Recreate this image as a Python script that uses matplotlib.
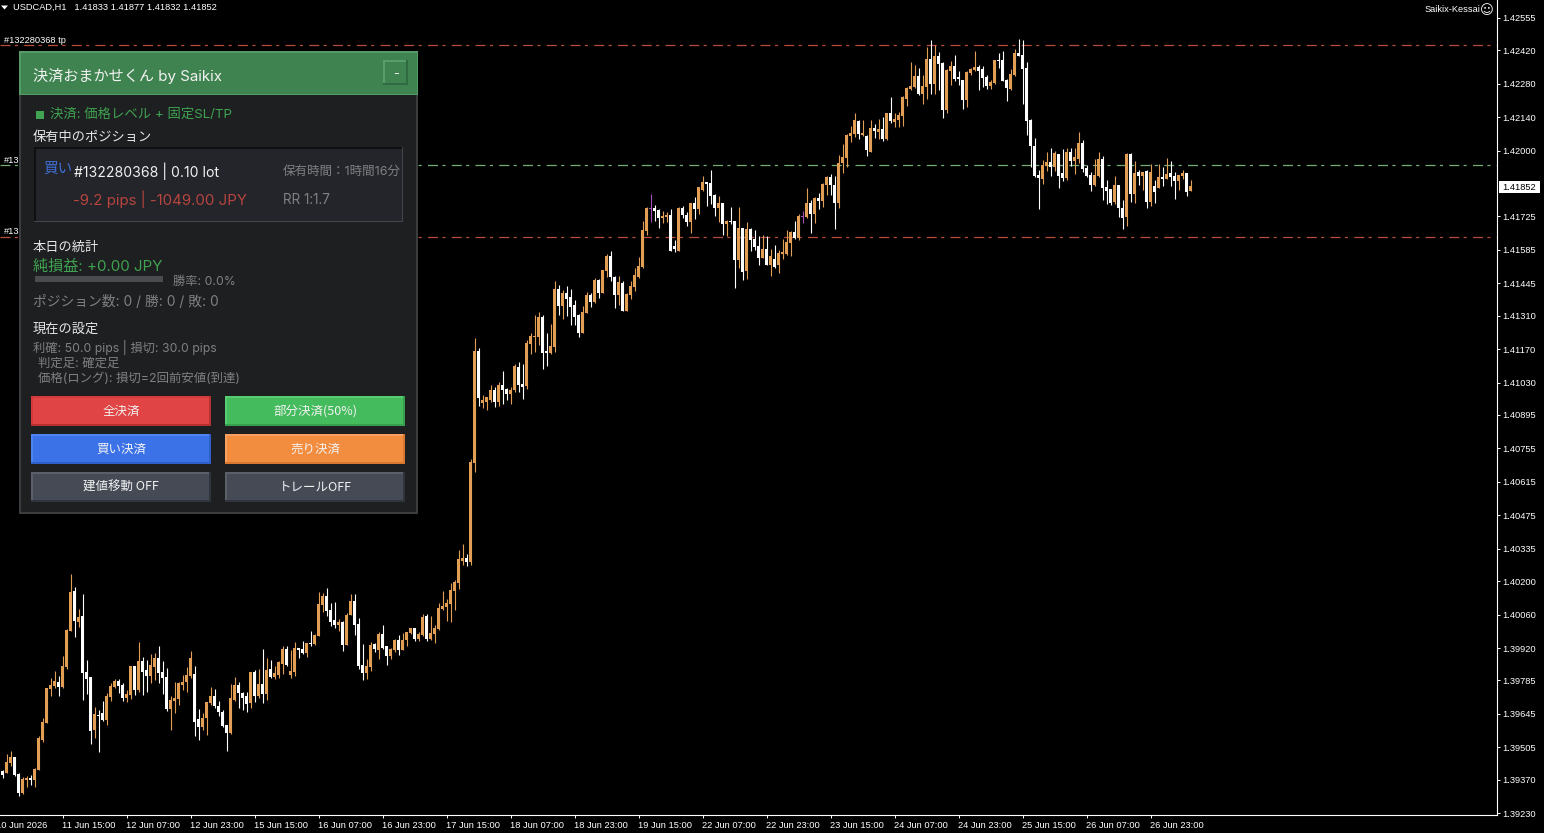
import numpy as np
from matplotlib import pyplot as plt
from matplotlib.patches import Rectangle

# USDCAD H1, prices as points above 1.39000
opens = [
407,399,441,465,395,314,368,375,368,412, 536,608,749,761,778,757,841,993,1158,1029,
1054,820,799,577,640,648,619,715,757,782, 766,711,724,845,745,866,828,803,841,878,
820,799,665,699,707,766,778,803,811,623, 590,628,690,720,678,653,598,565,703,766,
732,720,690,820,720,770,728,832,799,807, 853,916,807,820,920,916,899,941,937,970,
1100,1138,1079,1037,1016,1029,933,1058,1117,1020, 849,816,841,937,912,979,929,887,912,954,
912,954,983,1004,958,974,1054,958,979,1000, 1083,1092,1104,1158,1191,1283,1296,1279,1693,2161,
1945,1951,1959,2001,1951,2018,2002,1982,1998,2094, 2026,2015,2190,2220,2220,2303,2161,2153,2178,2420,
2349,2404,2387,2354,2312,2236,2320,2395,2366,2458, 2404,2496,2558,2471,2395,2445,2328,2395,2429,2471,
2512,2663,2758,2759,2751,2717,2721,2730,2600,2579, 2759,2730,2700,2780,2758,2834,2868,2863,2813,2759,
2780,2692,2705,2705,2541,2675,2496,2671,2629,2600, 2550,2588,2521,2546,2521,2567,2567,2613,2659,2634,
2723,2721,2780,2734,2801,2788,2855,2889,2855,2780, 2947,2968,3060,3068,3123,3064,3060,2993,3093,3077,
3089,3047,3156,3118,3127,3143,3215,3256,3265,3311, 3235,3265,3382,3277,3394,3365,3169,3332,3353,3307,
3294,3210,3323,3336,3348,3340,3307,3269,3281,3378, 3378,3294,3256,3315,3407,3398,3344,3127,3019,2897,
2881,2935,2952,2931,2985,2906,2885,2993,2956,2964, 3031,2927,2897,2855,2893,2964,2847,2839,2784,2855,
2759,2722,2985,2818,2910,2893,2914,2784,2851,2843, 2889,2881,2906,2893,2872,2893,2906,2833]
highs = [
410,476,490,465,399,382,385,389,420,552, 626,753,795,824,803,887,1000,1229,1174,1083,
1146,870,799,675,661,699,731,774,791,789, 772,745,845,845,945,881,870,895,899,929,
866,837,720,778,778,807,841,908,845,665, 648,694,757,749,699,661,598,770,799,778,
736,736,820,828,832,916,878,870,845,866, 929,929,912,945,920,949,941,991,979,1154,
1150,1171,1108,1112,1041,1033,1066,1146,1146,1046, 937,874,945,941,987,1016,929,920,958,974,
983,987,1004,1004,987,1062,1062,1054,1016,1108, 1158,1125,1192,1204,1329,1354,1313,1710,2216,2174,
1977,1970,2019,2012,2034,2078,2009,2012,2107,2115, 2107,2207,2236,2312,2324,2312,2236,2274,2454,2437,
2416,2433,2420,2374,2319,2349,2408,2404,2466,2462, 2500,2567,2579,2475,2475,2454,2404,2454,2508,2554,
2705,2763,2817,2772,2755,2746,2742,2755,2625,2763, 2767,2742,2780,2805,2847,2893,2868,2918,2817,2809,
2780,2709,2763,2705,2763,2675,2700,2675,2667,2642, 2646,2642,2588,2604,2583,2629,2667,2663,2705,2734,
2746,2843,2792,2805,2822,2863,2893,2901,2893,2980, 3026,3068,3102,3156,3127,3127,3064,3127,3110,3131,
3139,3156,3223,3156,3160,3227,3265,3369,3357,3344, 3315,3432,3461,3440,3411,3369,3340,3373,3398,3332,
3294,3332,3344,3415,3357,3353,3315,3294,3378,3407, 3415,3298,3340,3424,3465,3461,3369,3131,3052,2918,
2960,2993,3010,2998,2985,3006,3010,3010,3010,3077, 3044,2939,2910,2964,2993,2977,2876,2839,2893,2855,
2793,2989,2989,2956,2918,2910,2918,2943,2876,2943, 2931,2968,2956,2910,2897,2918,2906,2877]
lows = [
378,396,427,385,303,310,341,348,341,410, 529,605,720,752,720,752,834,990,966,1009,
703,728,519,545,485,615,598,699,752,731, 699,694,707,724,736,724,736,774,786,774,
728,657,577,648,682,745,736,795,552,536, 577,556,682,669,636,591,490,561,699,669,
661,653,669,694,711,690,703,795,791,795, 811,845,795,803,878,895,883,929,933,970,
1071,1054,1012,1004,991,908,933,1058,974,832, 786,791,824,903,874,916,849,874,903,891,
912,929,979,949,949,970,949,954,941,995, 1079,1033,1029,1079,1166,1267,1262,1267,1655,1931,
1923,1915,1951,1929,1931,1942,1956,1942,1990,1990, 1962,2004,2149,2157,2186,2086,2099,2149,2157,2312,
2295,2308,2270,2270,2220,2236,2320,2345,2362,2383, 2404,2471,2454,2341,2354,2328,2328,2379,2412,2466,
2508,2646,2700,2705,2675,2696,2700,2579,2575,2579, 2717,2684,2654,2713,2734,2830,2767,2776,2726,2700,
2646,2642,2692,2425,2508,2458,2462,2579,2583,2521, 2550,2521,2475,2508,2487,2546,2562,2558,2629,2625,
2696,2717,2654,2696,2755,2763,2813,2813,2671,2759, 2905,2930,3035,3056,3047,3060,2976,2993,3052,3047,
3039,3043,3114,3098,3098,3102,3185,3252,3261,3231, 3194,3215,3235,3235,3252,3135,3156,3273,3290,3273,
3173,3181,3315,3332,3252,3265,3256,3256,3277,3344, 3290,3206,3252,3311,3394,3194,3064,2930,2889,2755,
2860,2914,2893,2914,2843,2872,2876,2935,2901,2947, 2910,2889,2830,2851,2889,2793,2776,2772,2776,2722,
2672,2684,2784,2780,2855,2835,2759,2768,2780,2843, 2851,2881,2851,2797,2835,2881,2809,2832]
closes = [
389,444,465,389,315,374,377,368,414,545, 611,753,766,782,757,845,997,1154,1033,1050,
817,791,573,644,636,619,720,761,782,761, 711,726,845,745,866,820,803,849,878,816,
795,665,703,711,772,778,807,878,611,590, 628,694,720,678,653,594,565,711,766,732,
711,686,820,720,770,728,828,799,816,862, 916,849,824,920,912,899,941,937,974,1104,
1138,1075,1029,1016,1029,933,1058,1117,1016,845, 816,845,933,916,979,920,887,916,954,912,
954,987,1004,958,979,1050,958,983,1004,1087, 1096,1108,1163,1196,1292,1296,1279,1697,2161,1965,
1959,1968,2001,1951,2018,1998,1982,1998,2099,2018, 2011,2195,2224,2224,2303,2153,2153,2182,2420,2349,
2404,2379,2345,2303,2236,2324,2395,2366,2458,2404, 2500,2558,2471,2395,2450,2328,2399,2433,2479,2517,
2667,2759,2758,2746,2717,2726,2730,2579,2588,2759, 2730,2700,2780,2755,2847,2868,2862,2809,2759,2780,
2692,2705,2700,2541,2675,2491,2671,2625,2596,2550, 2588,2521,2558,2512,2571,2575,2617,2659,2634,2726,
2723,2780,2734,2801,2788,2859,2889,2855,2780,2947, 2972,3064,3072,3127,3068,3072,3001,3093,3081,3089,
3047,3156,3123,3131,3148,3223,3261,3269,3311,3235, 3269,3382,3277,3394,3361,3169,3336,3353,3298,3298,
3210,3327,3340,3348,3332,3302,3269,3286,3378,3373, 3290,3261,3319,3407,3394,3340,3123,3018,2893,2885,
2939,2952,2931,2989,2893,2885,2993,2956,2973,3031, 2922,2893,2855,2897,2964,2843,2830,2780,2855,2759,
2718,2985,2818,2906,2893,2910,2784,2910,2826,2889, 2881,2901,2889,2872,2897,2906,2826,2852]

price_ticks = ['1.42555','1.42420','1.42280','1.42140','1.42000','1.41725','1.41585','1.41445',
               '1.41310','1.41170','1.41030','1.40895','1.40755','1.40615','1.40475','1.40335',
               '1.40200','1.40060','1.39920','1.39785','1.39645','1.39505','1.39370','1.39230']
time_ticks = ['11 Jun 15:00','12 Jun 07:00','12 Jun 23:00','15 Jun 15:00','16 Jun 07:00','16 Jun 23:00',
              '17 Jun 15:00','18 Jun 07:00','18 Jun 23:00','19 Jun 15:00','22 Jun 07:00','22 Jun 23:00',
              '23 Jun 15:00','24 Jun 07:00','24 Jun 23:00','25 Jun 15:00','26 Jun 07:00','26 Jun 23:00']
time_tick_bars = list(range(15, 288, 16))
tp_price = 1.42440
open_price = 1.41938
sl_price = 1.41641

ORANGE = '#E29F54'
WHITE = '#FFFFFF'
PURPLE = '#A04FB8'
CJK = ['Noto Sans CJK JP', 'DejaVu Sans']
WIDE = ['Inter', 'Noto Sans CJK JP', 'DejaVu Sans']
plt.rcParams['font.family'] = CJK
TICKFONT = 'Liberation Sans'

fig = plt.figure(figsize=(15.44, 8.33), dpi=100, facecolor='black')
ax = fig.add_axes([0, 18/833, 1497/1544, 815/833], facecolor='black')

o = 1.39 + np.array(opens)/100000
h = 1.39 + np.array(highs)/100000
l = 1.39 + np.array(lows)/100000
c = 1.39 + np.array(closes)/100000
x = np.arange(len(o))
colors = [ORANGE if b > a else WHITE if b < a else PURPLE for a, b in zip(o, c)]

for y, col in [(tp_price, '#B84A3E'), (open_price, '#74AE74'), (sl_price, '#B84A3E')]:
    ax.axhline(y, color=col, lw=0.9, linestyle=(0, (8, 3.5, 2.5, 5)), snap=True, zorder=1)

ax.vlines(x, l, h, colors=colors, lw=0.8, zorder=2)
ax.bar(x, np.maximum(np.abs(c-o), 0.00004), bottom=np.minimum(o, c), width=0.75, color=colors, linewidth=0, zorder=3)

ax.set_xlim(-0.625, 373.625)
ax.set_ylim(1.39222, 1.42630)
ax.spines['top'].set_visible(False)
ax.spines['left'].set_visible(False)
ax.spines['right'].set_color('white')
ax.spines['bottom'].set_color('white')
ax.yaxis.tick_right()
ax.set_yticks([float(t) for t in price_ticks], price_ticks, fontfamily=TICKFONT, fontsize=6.7, color='white')
ax.set_xticks(time_tick_bars, time_ticks, fontfamily=TICKFONT, fontsize=6.7, color='white', ha='left')
ax.tick_params(axis='y', color='white', length=2, width=0.7, pad=2)
ax.tick_params(axis='x', color='white', length=2, width=0.7, pad=2.5)

# overlay in screen pixels for the chart labels and the EA panel
ov = fig.add_axes([0, 0, 1, 1], facecolor='none')
ov.axis('off')
ov.set_xlim(0, 1544)
ov.set_ylim(833, 0)


def box(x0, y0, x1, y1, face, top=None, bottom=None, bw=1.5):
    ov.add_patch(Rectangle((x0, y0), x1-x0, y1-y0, facecolor=face, edgecolor='none'))
    if top:
        ov.add_patch(Rectangle((x0, y0), x1-x0, bw, facecolor=top, edgecolor='none'))
        ov.add_patch(Rectangle((x0, y0), bw, y1-y0, facecolor=top, edgecolor='none'))
    if bottom:
        ov.add_patch(Rectangle((x0, y1-bw), x1-x0, bw, facecolor=bottom, edgecolor='none'))
        ov.add_patch(Rectangle((x1-bw, y0), bw, y1-y0, facecolor=bottom, edgecolor='none'))


def label(px, py, s, col, size, family=WIDE, **kw):
    ov.text(px, py+0.5, s, color=col, fontsize=size, va='center', family=family, **kw)


def chart_label(px, py, s, **kw):
    ov.text(px, py, s, color='white', fontsize=6.7, va='center', fontfamily=TICKFONT, **kw)


ov.fill([1, 8, 4.5], [5.5, 5.5, 9.5], color='white', lw=0)
chart_label(13, 7, 'USDCAD,H1   1.41833 1.41877 1.41832 1.41852')
chart_label(4, 40, '#132280368 tp')
chart_label(4, 160, '#13')
chart_label(4, 231, '#13')
chart_label(1480, 9, 'Saikix-Kessai', ha='right')
ov.text(1487, 10.5, '\u263a', color='white', fontsize=9.5, family='DejaVu Sans', ha='center', va='center')
chart_label(-4, 825, '10 Jun 2026')
box(1499, 181, 1540, 193, 'white')
ov.text(1519.5, 187, '1.41852', color='black', fontsize=6.7, fontfamily=TICKFONT, ha='center', va='center')

GREEN = '#3FA350'
GREY = '#7F8082'
LIGHT = '#E6E6E6'
box(19, 51, 418, 514, '#1E1F21', top='#3A3C3E', bottom='#3A3C3E', bw=2)
box(19, 51, 418, 95, '#3F8450', top='#559B68', bottom='#559B68', bw=1.5)
box(383, 60, 408, 85, '#3F8450', top='#5A9D6C', bottom='#2F6A40', bw=2)
label(395.5, 73, '-', '#F0F0F0', 9, ha='center')
label(33, 75, '決済おまかせくん by Saikix', '#F2F2F2', 10.9)

box(35.5, 110.5, 43.5, 118.5, GREEN)
label(50, 114, '決済: 価格レベル + 固定SL/TP', GREEN, 9.6)
label(33, 137, '保有中のポジション', LIGHT, 9.5)

box(34, 147, 403, 222, '#23252A', top='#0E0F10', bottom='#43464B', bw=1.5)
label(43, 168, '買い', '#3F6FD8', 10.5)
label(74, 171, '#132280368 | 0.10 lot', '#F0F0F0', 10.1)
label(283, 171, '保有時間：1時間16分', GREY, 9)
label(73, 199, '-9.2 pips | -1049.00 JPY', '#B8443F', 10.8)
label(283, 199.5, 'RR 1:1.7', GREY, 9.7)

label(33, 247, '本日の統計', LIGHT, 9.5)
label(33, 266, '純損益: +0.00 JPY', GREEN, 10.9)
box(35, 276, 163, 282, '#4A4C50')
label(173, 281, '勝率: 0.0%', GREY, 8.8)
label(33, 301, 'ポジション数: 0 / 勝: 0 / 敗: 0', GREY, 9.9)

label(33, 329.5, '現在の設定', LIGHT, 9.5)
label(33, 347, '利確: 50.0 pips | 損切: 30.0 pips', GREY, 8.8)
label(38, 363, '判定足: 確定足', GREY, 8.9)
label(38, 378, '価格(ロング): 損切=2回前安値(到達)', GREY, 8.9)

buttons = [(31, 396, '全決済', '#E04444', '#D03A3A', '#B83030'),
           (225, 396, '部分決済(50%)', '#44BB5C', '#58CC70', '#36A04C'),
           (31, 434, '買い決済', '#3B72E8', '#4F84F0', '#2F5FC8'),
           (225, 434, '売り決済', '#F28C3F', '#F7A060', '#D87830'),
           (31, 472, '建値移動 OFF', '#454A55', '#5A5F6A', '#30343C'),
           (225, 472, 'トレールOFF', '#454A55', '#5A5F6A', '#30343C')]
for bx, by, s, face, top, bottom in buttons:
    box(bx, by, bx+180, by+30, face, top=top, bottom=bottom, bw=2)
    label(bx+90, by+15, s, '#F2F2F2', 9, family=CJK, ha='center')

fig.savefig('out.png', dpi=100, facecolor='black')
